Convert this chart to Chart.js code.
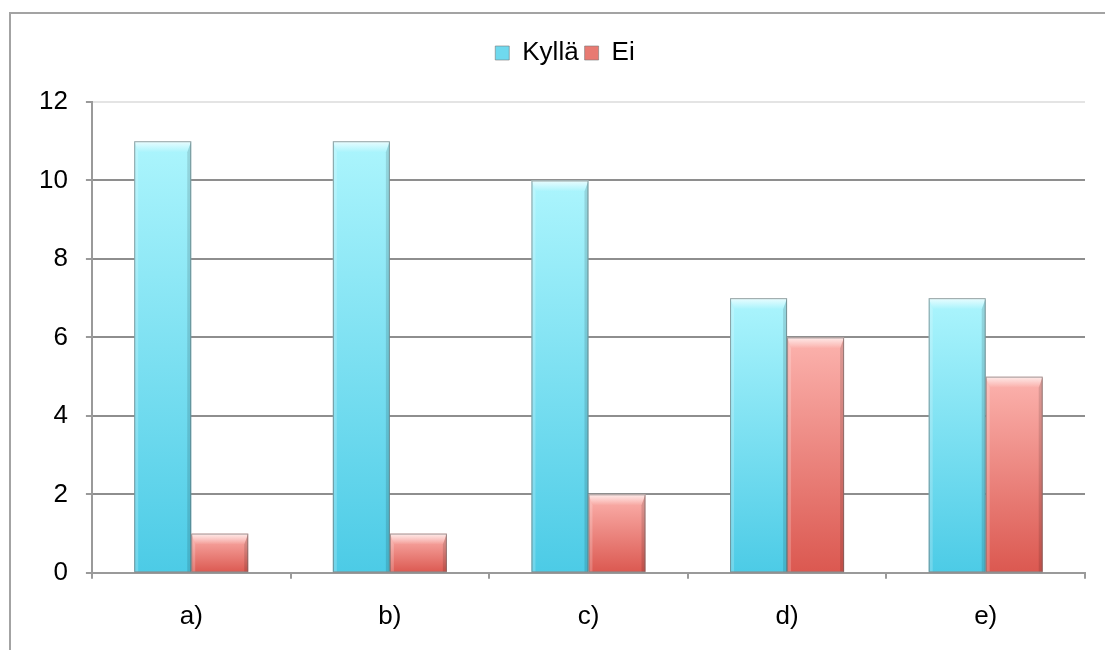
<!DOCTYPE html>
<html>
<head>
<meta charset="utf-8">
<script src="https://cdn.jsdelivr.net/npm/chart.js@4.4.1/dist/chart.umd.min.js"></script>
<style>
  html, body { margin: 0; padding: 0; background: #fff; overflow: hidden; }
  #wrap { position: relative; width: 1105px; height: 650px; }
  #frame { position: absolute; left: 9px; top: 12px; width: 1200px; height: 700px;
           border: 2px solid #a3a3a3; box-sizing: border-box; pointer-events: none; }
  canvas { position: absolute; left: 0; top: 0; }
</style>
</head>
<body>
<div id="wrap">
  <canvas id="chart" width="1105" height="650"></canvas>
  <div id="frame"></div>
</div>
<script>
const categories = ['a)', 'b)', 'c)', 'd)', 'e)'];
const kyllaValues = [11, 11, 10, 7, 7];
const eiValues = [1, 1, 2, 6, 5];
const yTicks = [0, 2, 4, 6, 8, 10, 12];

const FONT = { family: '"Liberation Sans", Arial, sans-serif', size: 26 };

// vertical gradient for each bar, from its top down to the baseline
function barGradient(topColor, bottomColor, flatColor) {
  return function (context) {
    const chart = context.chart;
    const yScale = chart.scales && chart.scales.y;
    if (context.type !== 'data' || !yScale || !chart.chartArea) return flatColor;
    const top = yScale.getPixelForValue(context.raw);
    const base = yScale.getPixelForValue(0);
    if (!isFinite(top) || !isFinite(base) || top === base) return flatColor;
    const g = chart.ctx.createLinearGradient(0, top, 0, base);
    g.addColorStop(0, topColor);
    g.addColorStop(1, bottomColor);
    return g;
  };
}

// bevelled edges and soft outline on every bar
const bevelPlugin = {
  id: 'bevel',
  afterDatasetsDraw(chart) {
    const ctx = chart.ctx;
    chart.data.datasets.forEach((ds, i) => {
      const meta = chart.getDatasetMeta(i);
      if (meta.hidden) return;
      meta.data.forEach(bar => {
        const p = bar.getProps(['x', 'y', 'base', 'width'], true);
        const l = p.x - p.width / 2, r = p.x + p.width / 2;
        const t = Math.min(p.y, p.base), b = Math.max(p.y, p.base);
        const h = b - t;
        if (h <= 0) return;
        const bv = Math.min(11, h / 2), sd = 4;
        ctx.save();
        // top face
        ctx.beginPath();
        ctx.moveTo(l, t); ctx.lineTo(r, t); ctx.lineTo(r - sd, t + bv); ctx.lineTo(l + sd, t + bv);
        ctx.closePath();
        const tg = ctx.createLinearGradient(0, t, 0, t + bv);
        tg.addColorStop(0, 'rgba(255,255,255,0.75)');
        tg.addColorStop(1, 'rgba(255,255,255,0.0)');
        ctx.fillStyle = tg; ctx.fill();
        // left face
        ctx.beginPath();
        ctx.moveTo(l, t); ctx.lineTo(l + sd, t + bv); ctx.lineTo(l + sd, b); ctx.lineTo(l, b);
        ctx.closePath();
        ctx.fillStyle = 'rgba(255,255,255,0.2)'; ctx.fill();
        // right face
        ctx.beginPath();
        ctx.moveTo(r, t); ctx.lineTo(r - sd, t + bv); ctx.lineTo(r - sd, b); ctx.lineTo(r, b);
        ctx.closePath();
        ctx.fillStyle = 'rgba(0,0,0,0.12)'; ctx.fill();
        // outline
        ctx.strokeStyle = 'rgba(100,100,100,0.6)';
        ctx.lineWidth = 1;
        ctx.strokeRect(l + 0.5, t + 0.5, r - l - 1, h - 0.5);
        ctx.restore();
      });
    });
  }
};

// extra space between the legend row and the plot, and a small shift right
const legendPlace = {
  id: 'legendPlace',
  beforeInit(chart) {
    if (!chart.legend) return;
    const fit = chart.legend.fit;
    chart.legend.fit = function () {
      fit.call(this);
      this.height += 26;
    };
  },
  afterLayout(chart) {
    if (!chart.legend) return;
    chart.legend.left += 12;
    chart.legend.right += 12;
  }
};

new Chart(document.getElementById('chart'), {
  type: 'bar',
  data: {
    labels: categories,
    datasets: [
      {
        label: 'Kyllä',
        data: kyllaValues,
        backgroundColor: barGradient('#acf5fd', '#4ccbe6', '#6fd9ee'),
        borderWidth: 0,
        barPercentage: 1,
        categoryPercentage: 0.574
      },
      {
        label: 'Ei',
        data: eiValues,
        backgroundColor: barGradient('#fcb3ae', '#db5850', '#e87a72'),
        borderWidth: 0,
        barPercentage: 1,
        categoryPercentage: 0.574
      }
    ]
  },
  options: {
    responsive: false,
    animation: false,
    devicePixelRatio: 1,
    layout: { padding: { left: 21, right: 20, top: 34, bottom: -4 } },
    plugins: {
      tooltip: { enabled: false },
      legend: {
        position: 'top',
        align: 'center',
        labels: {
          color: '#000',
          font: FONT,
          boxWidth: 14,
          boxHeight: 14,
          padding: 6,
          generateLabels(chart) {
            const fills = ['#6fd9ee', '#e87a72'];
            return chart.data.datasets.map((ds, i) => ({
              text: ds.label,
              fillStyle: fills[i],
              strokeStyle: 'rgba(120,120,120,0.6)',
              lineWidth: 1,
              hidden: false,
              datasetIndex: i,
              fontColor: '#000'
            }));
          }
        }
      }
    },
    scales: {
      x: {
        offset: true,
        grid: {
          offset: true,
          drawOnChartArea: false,
          drawTicks: true,
          tickLength: 6,
          color: '#9a9a9a',
          lineWidth: 2
        },
        border: { color: '#9a9a9a', width: 2 },
        ticks: { color: '#000', font: FONT, padding: 22 }
      },
      y: {
        min: 0,
        max: 12,
        afterBuildTicks(scale) { scale.ticks = yTicks.map(v => ({ value: v })); },
        grid: {
          color: ctx => (ctx.tick && ctx.tick.value === 12 ? '#e4e4e4' : '#8e8e8e'),
          tickColor: '#9a9a9a',
          lineWidth: 2,
          tickLength: 6
        },
        border: { color: '#9a9a9a', width: 2 },
        ticks: { color: '#000', font: FONT, padding: 18 }
      }
    }
  },
  plugins: [bevelPlugin, legendPlace]
});
</script>
</body>
</html>
